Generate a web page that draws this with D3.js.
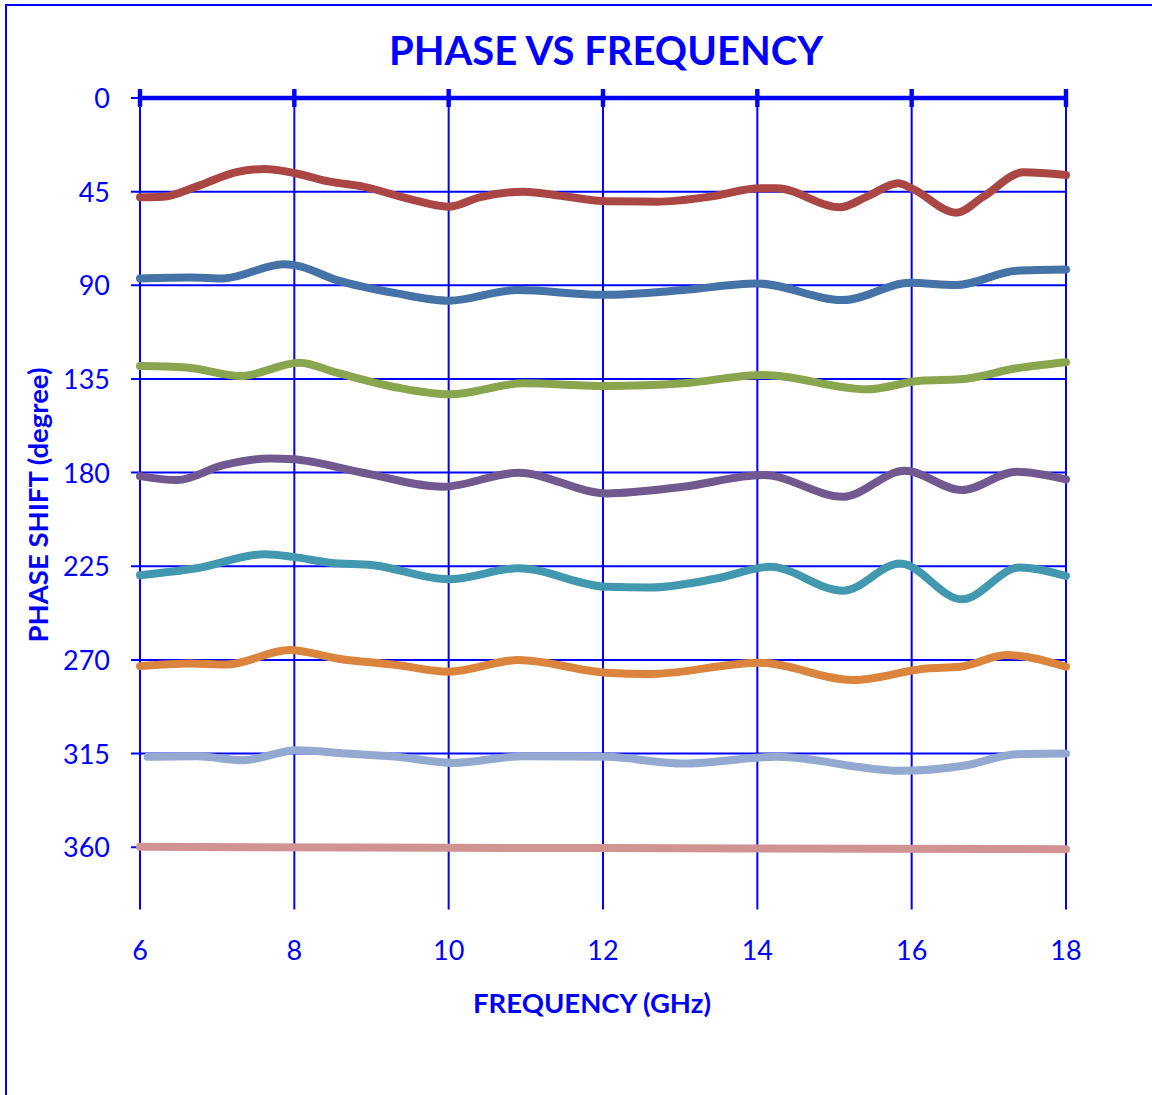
<!DOCTYPE html>
<html><head><meta charset="utf-8">
<script src="https://cdn.jsdelivr.net/npm/d3@7/dist/d3.min.js"></script>
<style>html,body{margin:0;padding:0;background:#fff;}svg{display:block;}</style>
</head><body>
<svg id="chart" width="1152" height="1095"></svg>
<script>
// ---- data ----
const xTicks = [6, 8, 10, 12, 14, 16, 18];
const yTicks = [0, 45, 90, 135, 180, 225, 270, 315, 360];
const seriesRed = [[6,47.7],[6.3,47.4],[6.73,42.6],[7.25,35.6],[7.62,34.1],[7.98,35.9],[8.46,40.2],[8.89,42.6],[9.46,48.2],[10.0,52.2],[10.41,47.6],[10.97,45.0],[11.49,47.2],[12.05,49.6],[12.7,49.8],[13.39,47.4],[14.03,43.4],[14.25,43.4],[15.07,52.5],[15.42,47.4],[15.83,41.0],[16.0,43.4],[16.58,55.1],[16.93,47.4],[17.45,35.7],[18,37.0]];
const seriesBlue = [[6,86.7],[6.65,86.3],[7.08,86.7],[7.86,79.9],[8.0,80.3],[8.55,87.5],[9.33,93.9],[10.0,97.4],[10.88,92.3],[12.0,94.6],[13.04,92.3],[13.99,89.1],[15.11,97.1],[15.98,88.8],[16.58,89.9],[17.36,83.0],[18,82.4]];
const seriesGreen = [[6,128.8],[6.6,129.5],[7.3,133.6],[8.07,127.2],[8.55,132.0],[9.33,139.1],[10.02,142.4],[10.97,137.1],[12.05,138.4],[13.04,137.1],[14.08,133.1],[15.42,140.0],[16.11,135.9],[16.63,135.2],[17.36,129.9],[18,127.0]];
const seriesPurple = [[6,181.7],[6.48,183.6],[7.08,176.4],[7.68,173.2],[7.99,173.6],[8.89,180.1],[9.93,186.8],[10.9,180.1],[12.05,190.0],[13.04,186.8],[14.08,181.2],[15.11,191.6],[15.91,179.1],[16.65,188.4],[17.36,179.6],[18,183.3]];
const seriesTeal = [[6,229.3],[6.73,226.0],[7.62,219.2],[7.99,220.5],[8.46,223.3],[9.02,224.5],[10.0,231.3],[10.9,226.0],[12.05,234.9],[12.61,235.2],[13.47,230.9],[14.16,225.3],[15.11,236.8],[15.85,223.7],[16.65,240.9],[17.4,225.6],[18,229.7]];
const seriesOrange = [[6,273.0],[6.65,271.7],[7.12,272.2],[7.94,265.3],[8.55,269.3],[9.33,272.5],[10.0,275.7],[10.9,270.1],[12.05,276.2],[12.61,276.8],[14.03,271.4],[15.24,279.7],[16.19,274.1],[16.63,273.3],[17.23,267.7],[18,273.3]];
const seriesLightBlue = [[6.1,316.6],[6.73,316.3],[7.34,318.2],[8.03,313.4],[8.68,315.0],[9.33,316.6],[10.06,319.5],[10.97,316.3],[12.05,316.6],[13.04,319.8],[14.25,316.6],[15.85,323.3],[16.71,320.6],[17.36,315.3],[18,315.0]];
const seriesPink = [[6,359.8],[10,360.3],[14,360.6],[18,361.0]];
const seriesList = [seriesPink, seriesLightBlue, seriesOrange, seriesTeal, seriesPurple, seriesGreen, seriesBlue, seriesRed];
const seriesColors = ["#D19392", "#93A9CF", "#DB843D", "#4198AF", "#71588F", "#89A54E", "#4572A7", "#AA4643"];

// ---- layout ----
const svg = d3.select("#chart");
const blue = "#0000FF";
const font = "Lato, 'Open Sans', sans-serif";
const x = d3.scaleLinear().domain([6, 18]).range([140, 1066]);
const y = d3.scaleLinear().domain([0, 390]).range([98, 909.6]);

// outer border
svg.append("rect").attr("x", 6).attr("y", 5).attr("width", 1160).attr("height", 1110)
  .attr("fill", "none").attr("stroke", blue).attr("stroke-width", 2);

// title
svg.append("text").attr("x", 606).attr("y", 65).attr("text-anchor", "middle")
  .attr("font-family", font).attr("font-weight", "bold").attr("font-size", 40)
  .attr("fill", blue).text("PHASE VS FREQUENCY");

// vertical grid
svg.append("g").selectAll("line").data(xTicks).join("line")
  .attr("x1", d => x(d)).attr("x2", d => x(d))
  .attr("y1", y(0)).attr("y2", y(390))
  .attr("stroke", blue).attr("stroke-width", 2);

// horizontal grid (and left ticks)
svg.append("g").selectAll("line").data(yTicks.slice(1)).join("line")
  .attr("x1", 131).attr("x2", x(18))
  .attr("y1", d => y(d)).attr("y2", d => y(d))
  .attr("stroke", blue).attr("stroke-width", 2);

// top axis (value 0): thick line + tick marks
svg.append("line").attr("x1", 131).attr("x2", x(6)).attr("y1", y(0)).attr("y2", y(0))
  .attr("stroke", blue).attr("stroke-width", 2);
svg.append("line").attr("x1", x(6)).attr("x2", x(18)).attr("y1", y(0)).attr("y2", y(0))
  .attr("stroke", blue).attr("stroke-width", 4.5);
svg.append("g").selectAll("rect").data(xTicks).join("rect")
  .attr("x", d => x(d) - 2.2).attr("y", y(0) - 9).attr("width", 4.4).attr("height", 18)
  .attr("fill", blue);

// y tick labels
svg.append("g").selectAll("text").data(yTicks).join("text")
  .attr("x", 110).attr("y", d => y(d) + 10).attr("text-anchor", "end")
  .attr("font-family", font).attr("font-size", 27).attr("fill", blue)
  .text(d => d);

// x tick labels
svg.append("g").selectAll("text").data(xTicks).join("text")
  .attr("x", d => x(d)).attr("y", 960).attr("text-anchor", "middle")
  .attr("font-family", font).attr("font-size", 27).attr("fill", blue)
  .text(d => d);

// axis titles
svg.append("text").attr("x", 592).attr("y", 1013).attr("text-anchor", "middle")
  .attr("font-family", font).attr("font-weight", "bold").attr("font-size", 27.5)
  .attr("fill", blue).text("FREQUENCY (GHz)");
svg.append("text").attr("transform", "translate(48,505) rotate(-90)").attr("text-anchor", "middle")
  .attr("font-family", font).attr("font-weight", "bold").attr("font-size", 27.5)
  .attr("fill", blue).text("PHASE SHIFT (degree)");

// series lines
const line = d3.line().x(d => x(d[0])).y(d => y(d[1])).curve(d3.curveMonotoneX);
svg.append("g").selectAll("path").data(seriesList).join("path")
  .attr("d", line).attr("fill", "none")
  .attr("stroke", (d, i) => seriesColors[i]).attr("stroke-width", 8)
  .attr("stroke-linecap", "round").attr("stroke-linejoin", "round");
</script>
</body></html>
